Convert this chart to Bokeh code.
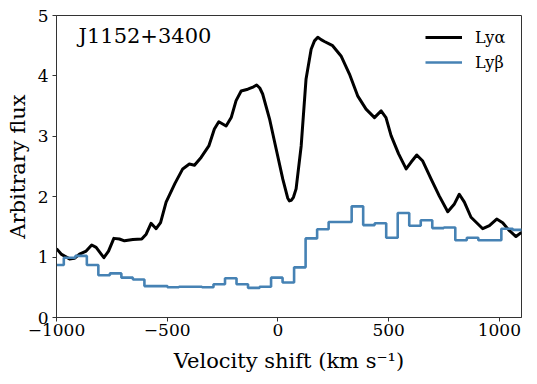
from bokeh.plotting import figure
from bokeh.models import Range1d, FixedTicker, Label, Legend, LegendItem
from bokeh.embed import file_html
from bokeh.resources import INLINE

# ---- data ----
vel_lya = [-1000, -979, -941, -919, -896, -866, -841, -821, -786, -765, -741, -716, -693,
           -655, -615, -595, -573, -550, -530, -505, -465, -430, -400, -377, -347, -312,
           -287, -267, -234, -211, -189, -166, -136, -110, -96, -82, -69, -38, -8, 22, 44,
           52, 60, 70, 82, 105, 127, 150, 165, 180, 195, 210, 247, 285, 323, 360, 398,
           436, 466, 488, 511, 545, 579, 601, 627, 654, 692, 729, 767, 797, 819, 842,
           872, 925, 955, 988, 1015, 1042, 1075, 1100]
flux_lya = [1.14, 1.05, 0.97, 0.98, 1.05, 1.10, 1.20, 1.16, 0.99, 1.10, 1.31, 1.30, 1.27,
            1.29, 1.30, 1.38, 1.56, 1.47, 1.57, 1.91, 2.22, 2.46, 2.54, 2.52, 2.65, 2.84,
            3.12, 3.24, 3.17, 3.31, 3.59, 3.75, 3.78, 3.82, 3.85, 3.80, 3.70, 3.29, 2.79,
            2.29, 1.98, 1.93, 1.94, 1.99, 2.13, 2.84, 3.95, 4.44, 4.58, 4.64, 4.60, 4.57,
            4.50, 4.33, 4.03, 3.67, 3.45, 3.31, 3.42, 3.31, 3.01, 2.71, 2.46, 2.57, 2.69,
            2.59, 2.29, 2.01, 1.75, 1.88, 2.04, 1.91, 1.66, 1.47, 1.52, 1.63, 1.57, 1.45,
            1.34, 1.41]

edges_lyb = [-1019, -967, -915, -863, -811, -759, -707, -655, -603, -551, -499, -447,
             -395, -343, -291, -239, -187, -135, -83, -31, 21, 73, 125, 177, 229, 281,
             333, 385, 437, 489, 541, 593, 645, 697, 749, 801, 853, 905, 957, 1009,
             1061, 1113]
flux_lyb = [0.87, 0.99, 1.02, 0.87, 0.70, 0.73, 0.66, 0.63, 0.52, 0.52, 0.50, 0.51,
            0.51, 0.50, 0.55, 0.65, 0.55, 0.49, 0.51, 0.66, 0.58, 0.83, 1.31, 1.46,
            1.58, 1.58, 1.84, 1.53, 1.56, 1.32, 1.73, 1.52, 1.61, 1.48, 1.49, 1.28,
            1.32, 1.28, 1.28, 1.47, 1.45]

x_ticks = [-1000, -500, 0, 500, 1000]
x_tick_labels = ["\u22121000", "\u2212500", "0", "500", "1000"]
y_ticks = [0, 1, 2, 3, 4, 5]

title_text = "J1152+3400"
FONT = "DejaVu Serif"

p = figure(width=530, height=375, output_backend="svg", toolbar_location=None,
           x_range=Range1d(-1000, 1100), y_range=Range1d(0, 5),
           min_border_left=56, min_border_right=9, min_border_top=15, min_border_bottom=58)
p.background_fill_color = "white"
p.border_fill_color = "white"
p.outline_line_color = "#333333"
p.outline_line_width = 1
p.xgrid.visible = False
p.ygrid.visible = False

r_a = p.line(vel_lya, flux_lya, line_color="black", line_width=3, line_join="round")
r_b = p.step(edges_lyb, flux_lyb + [flux_lyb[-1]], mode="after",
             line_color="#4682B4", line_width=2.6)

for ax in (p.xaxis[0], p.yaxis[0]):
    ax.axis_line_color = "#333333"
    ax.major_tick_line_color = "#333333"
    ax.major_tick_out = 4
    ax.major_tick_in = 0
    ax.minor_tick_out = 0
    ax.minor_tick_in = 0
    ax.major_label_text_font = FONT
    ax.major_label_text_font_size = "17px"
    ax.major_label_text_color = "black"
    ax.axis_label_text_font = FONT
    ax.axis_label_text_font_size = "21px"
    ax.axis_label_text_font_style = "normal"
    ax.axis_label_text_color = "black"

p.xaxis[0].ticker = FixedTicker(ticks=x_ticks)
p.xaxis[0].major_label_overrides = {t: l for t, l in zip(x_ticks, x_tick_labels)}
p.yaxis[0].ticker = FixedTicker(ticks=y_ticks)
p.xaxis[0].axis_label = "Velocity shift (km s\u207b\u00b9)"
p.yaxis[0].axis_label = "Arbitrary flux"
p.xaxis[0].major_label_standoff = 2
p.yaxis[0].major_label_standoff = 4
p.xaxis[0].axis_label_standoff = 10
p.yaxis[0].axis_label_standoff = 5

p.add_layout(Label(x=22, y=282, x_units="screen", y_units="screen", text=title_text,
                   text_font=FONT, text_font_size="21px", text_color="black",
                   text_baseline="alphabetic"))

legend = Legend(items=[LegendItem(label="Ly\u03b1", renderers=[r_a]),
                       LegendItem(label="Ly\u03b2", renderers=[r_b])],
                location="top_right", margin=10, padding=10, spacing=1,
                glyph_width=37, glyph_height=24, label_height=24, label_width=36,
                label_standoff=13, label_text_color="black",
                label_text_font=FONT, label_text_font_size="16px",
                border_line_color=None, background_fill_alpha=0)
p.add_layout(legend)

open("out.html", "w").write(file_html(p, INLINE))
